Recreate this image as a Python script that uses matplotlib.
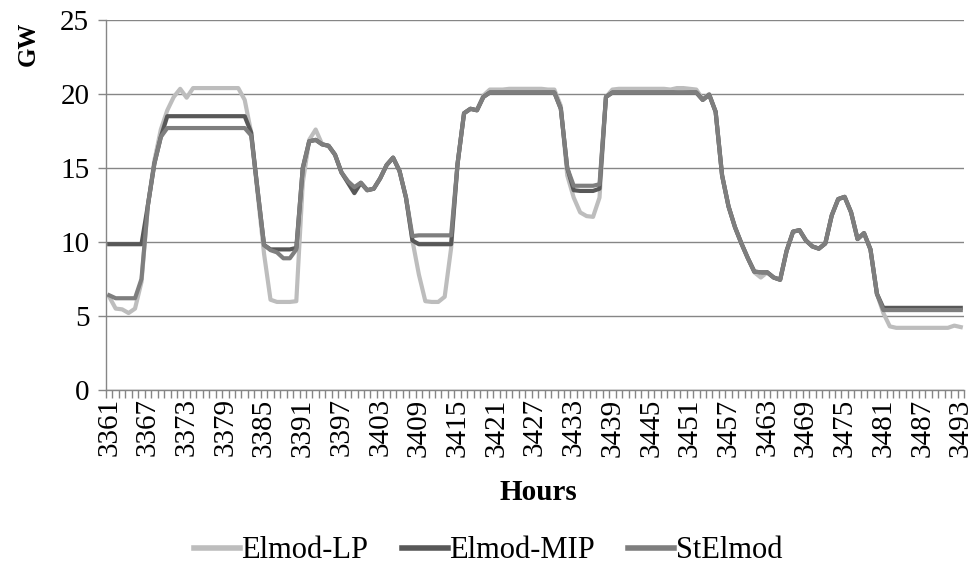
import numpy as np
import matplotlib
matplotlib.use("Agg")
import matplotlib.pyplot as plt

plt.rcParams['font.family'] = ['Liberation Serif', 'DejaVu Serif']

# hourly generation, GW
hours = list(range(3361, 3494))

elmod_lp = [
    6.3, 5.5, 5.45, 5.2, 5.5, 7.3, 12.5, 15.5, 17.6, 18.9,
    19.8, 20.35, 19.75, 20.4, 20.4, 20.4, 20.4, 20.4, 20.4, 20.4,
    20.4, 19.6, 17.4, 13.3, 9.2, 6.1, 5.95, 5.95, 5.95, 6.0,
    14.0, 16.9, 17.6, 16.6, 16.5, 15.9, 14.7, 14.1, 13.7, 14.0,
    13.5, 13.6, 14.3, 15.2, 15.7, 14.8, 13.0, 10.1, 7.8, 6.0,
    5.95, 5.95, 6.3, 9.6, 15.3, 18.7, 19.0, 18.9, 19.9, 20.3,
    20.3, 20.3, 20.35, 20.35, 20.35, 20.35, 20.35, 20.35, 20.3, 20.3,
    19.2, 14.5, 13.0, 12.0, 11.75, 11.7, 13.0, 19.8, 20.3, 20.35,
    20.35, 20.35, 20.35, 20.35, 20.35, 20.35, 20.35, 20.3, 20.4, 20.4,
    20.35, 20.3, 19.65, 20.0, 18.8, 14.5, 12.4, 11.0, 9.9, 8.9,
    7.95, 7.6, 7.95, 7.6, 7.45, 9.4, 10.7, 10.8, 10.1, 9.7,
    9.55, 9.9, 11.8, 12.9, 13.05, 12.0, 10.2, 10.6, 9.5, 6.5,
    5.2, 4.3, 4.2, 4.2, 4.2, 4.2, 4.2, 4.2, 4.2, 4.2,
    4.2, 4.35, 4.25,
]

elmod_mip = [
    9.85, 9.85, 9.85, 9.85, 9.85, 9.85, 12.5, 15.3, 17.1, 18.5,
    18.5, 18.5, 18.5, 18.5, 18.5, 18.5, 18.5, 18.5, 18.5, 18.5,
    18.5, 18.5, 17.4, 13.5, 9.8, 9.5, 9.5, 9.5, 9.5, 9.6,
    15.0, 16.8, 16.9, 16.6, 16.5, 15.9, 14.7, 14.0, 13.3, 14.0,
    13.5, 13.6, 14.3, 15.2, 15.7, 14.8, 13.0, 10.1, 9.85, 9.85,
    9.85, 9.85, 9.85, 9.85, 15.3, 18.7, 19.0, 18.9, 19.8, 20.1,
    20.1, 20.1, 20.1, 20.1, 20.1, 20.1, 20.1, 20.1, 20.1, 20.1,
    19.0, 15.0, 13.5, 13.45, 13.45, 13.45, 13.6, 19.8, 20.1, 20.1,
    20.1, 20.1, 20.1, 20.1, 20.1, 20.1, 20.1, 20.1, 20.1, 20.1,
    20.1, 20.1, 19.6, 19.95, 18.8, 14.5, 12.4, 11.0, 9.9, 8.9,
    8.0, 7.95, 7.95, 7.6, 7.45, 9.4, 10.7, 10.8, 10.1, 9.7,
    9.55, 9.9, 11.8, 12.9, 13.05, 12.0, 10.2, 10.6, 9.5, 6.5,
    5.55, 5.55, 5.55, 5.55, 5.55, 5.55, 5.55, 5.55, 5.55, 5.55,
    5.55, 5.55, 5.55,
]

st_elmod = [
    6.4, 6.2, 6.2, 6.2, 6.2, 7.5, 12.5, 15.3, 17.1, 17.7,
    17.7, 17.7, 17.7, 17.7, 17.7, 17.7, 17.7, 17.7, 17.7, 17.7,
    17.7, 17.7, 17.2, 13.5, 9.8, 9.45, 9.3, 8.9, 8.9, 9.5,
    15.0, 16.8, 16.9, 16.6, 16.5, 15.9, 14.7, 14.1, 13.7, 14.0,
    13.5, 13.6, 14.3, 15.2, 15.7, 14.8, 13.0, 10.4, 10.45, 10.45,
    10.45, 10.45, 10.45, 10.45, 15.3, 18.7, 19.0, 18.9, 19.8, 20.1,
    20.1, 20.1, 20.1, 20.1, 20.1, 20.1, 20.1, 20.1, 20.1, 20.1,
    19.0, 15.0, 13.8, 13.8, 13.8, 13.8, 13.9, 19.8, 20.1, 20.1,
    20.1, 20.1, 20.1, 20.1, 20.1, 20.1, 20.1, 20.1, 20.1, 20.1,
    20.1, 20.1, 19.6, 19.95, 18.8, 14.5, 12.4, 11.0, 9.9, 8.9,
    8.0, 7.95, 7.95, 7.6, 7.45, 9.4, 10.7, 10.8, 10.1, 9.7,
    9.55, 9.9, 11.8, 12.9, 13.05, 12.0, 10.2, 10.6, 9.5, 6.5,
    5.4, 5.4, 5.4, 5.4, 5.4, 5.4, 5.4, 5.4, 5.4, 5.4,
    5.4, 5.4, 5.4,
]

x = np.arange(len(hours))
grey = '#868686'
lw = 3.0

fig = plt.figure(figsize=(9.72, 5.78), dpi=100)
ax = fig.add_axes([106 / 972, 1 - 390 / 578, 858 / 972, 370 / 578])

ax.plot(x, elmod_lp, color='#bdbdbd', lw=lw, solid_joinstyle='round', label='Elmod-LP')
ax.plot(x, elmod_mip, color='#585858', lw=lw, solid_joinstyle='round', label='Elmod-MIP')
ax.plot(x, st_elmod, color='#7e7e7e', lw=lw, solid_joinstyle='round', label='StElmod')

ax.set_xlim(-0.5, len(hours) - 0.5)
ax.set_ylim(0, 25)
ax.set_yticks(range(0, 26, 5))
ax.yaxis.grid(True, color=grey, lw=1.0)
ax.set_axisbelow(True)

for side in ['top', 'right']:
    ax.spines[side].set_visible(False)
for side in ['left', 'bottom']:
    ax.spines[side].set_color(grey)
    ax.spines[side].set_linewidth(1.0)

# category labels every 6 hours, tick marks between categories
ax.set_xticks(x[::6])
ax.set_xticklabels([str(h) for h in hours[::6]], rotation=90)
ax.set_xticks(np.arange(-0.5, len(hours)), minor=True)
ax.tick_params(axis='x', which='major', length=0, labelsize=21, pad=6)
ax.tick_params(axis='x', which='minor', length=6, color=grey, width=1.0)
ax.tick_params(axis='y', length=6, color=grey, width=1.0, labelsize=21, pad=6)

fig.text(28 / 972, 1 - 44 / 578, 'GW', rotation=90, fontsize=18, fontweight='bold',
         ha='center', va='center')
fig.text(538 / 972, 1 - 492 / 578, 'Hours', fontsize=21, fontweight='bold',
         ha='center', va='center')

leg = fig.legend(loc='center', bbox_to_anchor=(488 / 972, 1 - 551 / 578), ncol=3,
                 frameon=False, fontsize=22, handlelength=1.5, handletextpad=0.05,
                 columnspacing=1.1)
for line in leg.get_lines():
    line.set_linewidth(4.0)

fig.savefig('out.png', dpi=100)
